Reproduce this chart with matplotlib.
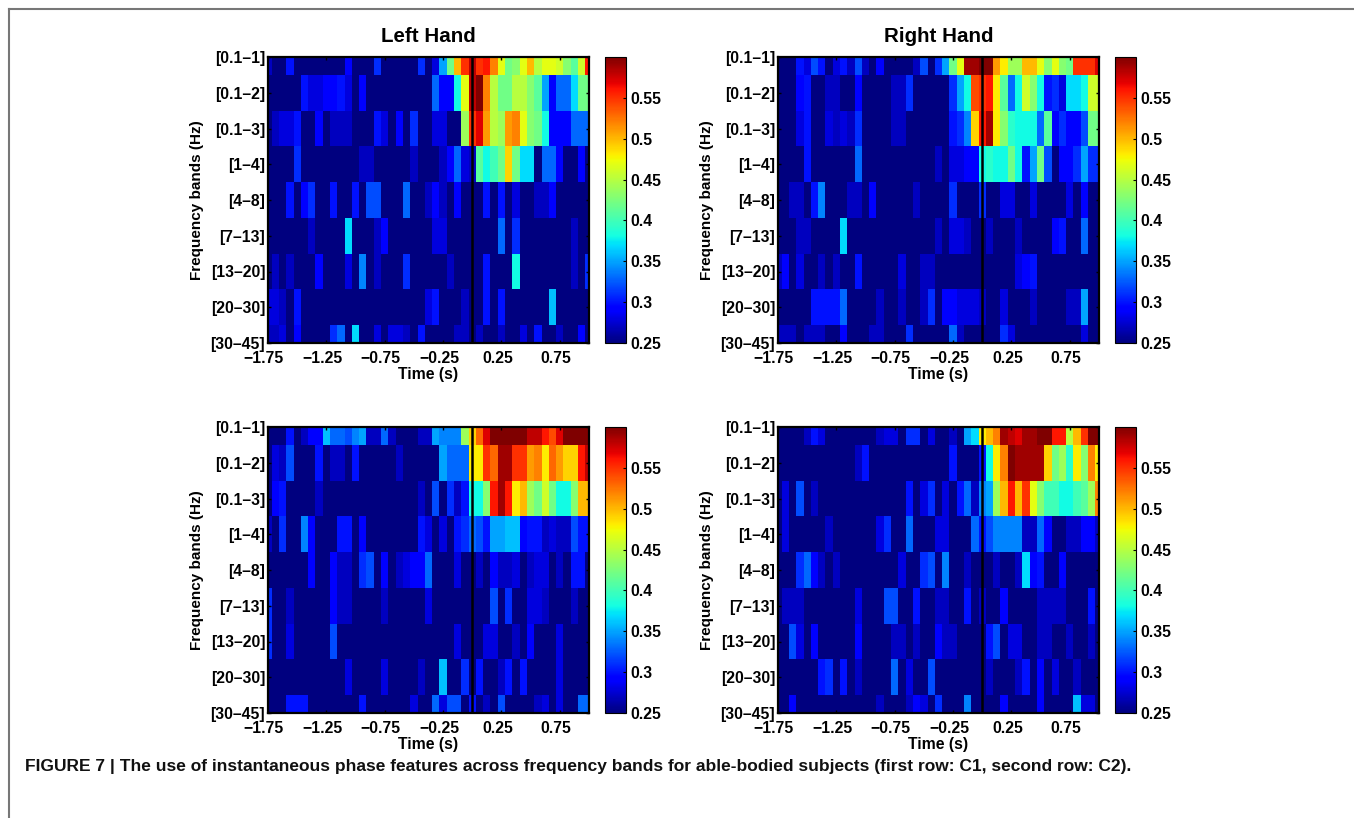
import numpy as np
import matplotlib
matplotlib.use('Agg')
import matplotlib.pyplot as plt
from matplotlib.lines import Line2D
from matplotlib.transforms import ScaledTranslation

plt.rcParams['font.family'] = ['Liberation Sans', 'DejaVu Sans']
plt.rcParams['font.weight'] = 'bold'

bands = ['[0.1\u20131]', '[0.1\u20132]', '[0.1\u20133]', '[1\u20134]', '[4\u20138]',
         '[7\u201313]', '[13\u201320]', '[20\u201330]', '[30\u201345]']
time_ticks = [-1.75, -1.25, -0.75, -0.25, 0.25, 0.75]
cbar_ticks = [0.25, 0.3, 0.35, 0.4, 0.45, 0.5, 0.55]
cbar_labels = ['0.25', '0.3', '0.35', '0.4', '0.45', '0.5', '0.55']

# values in hundredths, 45 time bins per band
left_c1 = [
    [27,25,25,30,25, 25,25,25,25,25, 25,29,25,25,25, 31,25,25,25,25, 25,31,25,28,35, 42,50,55,58,55, 56,52,47,42,43, 47,50,45,47,47, 46,43,41,46,56],
    [25,25,25,25,25, 30,28,28,29,29, 30,28,25,29,25, 25,25,25,25,25, 25,25,25,33,29, 29,38,47,58,60, 52,45,42,42,45, 45,43,41,35,29, 33,33,37,42,42],
    [25,27,28,28,30, 25,25,29,25,27, 27,27,25,25,25, 30,28,25,29,25, 31,25,25,28,28, 25,25,44,55,57, 51,45,44,51,52, 47,43,42,38,29, 29,29,33,33,33],
    [25,25,25,25,31, 25,25,25,25,25, 25,25,25,27,27, 25,25,25,25,25, 27,25,25,25,27, 29,33,28,27,41, 38,40,42,49,42, 37,37,25,33,33, 29,25,25,29,25],
    [25,25,25,30,25, 29,31,25,25,30, 25,25,30,25,32, 32,25,25,25,33, 25,25,27,29,27, 25,29,25,25,25, 30,25,30,25,28, 25,25,27,27,29, 25,25,25,25,25],
    [25,25,25,25,25, 25,27,25,25,25, 25,37,25,25,25, 27,29,25,25,25, 25,25,25,28,28, 25,25,25,25,25, 25,25,33,25,31, 25,25,25,25,25, 25,25,27,25,25],
    [25,27,25,27,25, 25,25,29,25,25, 25,28,25,34,25, 27,25,25,25,31, 25,25,25,25,25, 27,25,25,25,25, 30,25,25,25,38, 25,25,25,25,25, 25,25,27,25,31],
    [28,28,27,25,30, 25,25,25,25,25, 25,25,25,25,25, 25,25,25,25,25, 25,25,28,30,25, 25,25,27,25,25, 30,25,30,25,25, 25,25,25,25,36, 25,25,25,25,25],
    [27,27,28,25,29, 25,25,25,25,31, 33,25,37,25,25, 28,25,28,28,27, 25,30,25,25,25, 25,27,27,25,27, 25,25,27,25,25, 28,25,30,25,25, 27,25,25,29,25],
]
right_c1 = [
    [25,25,25,30,28, 32,30,25,28,30, 27,32,27,25,29, 25,25,25,25,27, 32,25,31,35,42, 47,59,59,60,60, 51,48,44,44,50, 50,47,43,47,43, 42,55,55,55,57],
    [25,25,25,29,30, 25,25,27,27,25, 25,29,25,25,25, 25,27,27,31,25, 25,25,25,25,31, 35,38,54,55,56, 48,41,33,38,46, 43,38,30,31,28, 37,37,38,46,46],
    [25,25,25,28,30, 25,25,28,27,28, 27,31,25,25,25, 25,27,27,25,25, 25,25,25,25,30, 31,34,49,56,59, 48,43,39,38,38, 38,33,41,29,31, 29,29,32,42,42],
    [25,25,25,25,30, 25,25,25,25,25, 25,33,25,25,25, 25,25,25,25,25, 25,25,27,25,28, 28,29,29,38,39, 38,38,42,38,30, 35,42,32,25,29, 29,31,35,31,31],
    [25,25,27,27,25, 30,34,25,25,25, 27,27,25,29,25, 25,25,25,25,27, 25,25,25,25,31, 25,25,25,31,25, 25,28,28,25,25, 28,25,25,25,25, 28,25,29,25,25],
    [25,25,25,27,27, 25,25,25,25,37, 25,25,25,25,25, 25,25,25,25,25, 25,25,27,25,28, 28,27,25,25,27, 25,25,25,27,25, 25,25,25,29,30, 25,25,33,25,25],
    [27,29,25,28,25, 25,27,25,27,25, 25,30,25,25,25, 25,25,28,25,25, 27,27,25,25,25, 25,25,25,25,25, 25,25,25,28,29, 30,25,25,25,25, 25,25,25,25,25],
    [25,25,25,25,25, 30,30,30,30,33, 25,25,25,25,27, 25,25,27,25,25, 27,31,25,29,29, 28,28,28,27,25, 25,28,25,25,25, 27,25,25,25,25, 27,27,35,25,25],
    [27,27,27,25,27, 27,27,25,25,29, 25,25,25,27,27, 25,25,25,31,25, 25,25,25,25,33, 27,25,25,25,25, 25,31,28,25,25, 25,25,25,25,25, 25,25,28,25,25],
]
left_c2 = [
    [25,25,25,30,25, 27,29,29,36,33, 33,32,34,35,27, 27,33,27,25,25, 25,27,27,35,34, 34,34,44,49,53, 57,60,60,60,60, 60,58,58,56,54, 57,60,60,60,60],
    [25,28,27,32,25, 25,25,30,25,27, 27,25,30,25,25, 25,25,25,27,25, 25,25,25,25,35, 33,33,33,48,48, 55,53,59,59,55, 55,51,52,48,53, 51,49,49,56,58],
    [25,29,30,25,25, 25,25,27,25,25, 25,25,25,25,25, 25,25,25,25,25, 25,27,25,32,25, 31,27,30,38,38, 43,56,59,56,48, 50,44,42,46,42, 38,38,43,50,50],
    [27,25,31,25,25, 34,29,25,25,25, 30,30,25,29,25, 25,25,25,25,25, 25,30,28,25,28, 25,30,31,33,32, 30,35,35,36,36, 29,30,30,27,28, 27,27,32,30,30],
    [25,25,25,25,25, 25,29,25,25,29, 27,27,25,31,32, 25,29,25,27,28, 29,29,33,25,25, 25,28,25,25,27, 25,29,27,27,28, 25,27,28,28,25, 27,25,30,30,25],
    [31,25,25,27,25, 25,25,25,25,29, 27,27,25,25,25, 25,27,25,25,25, 25,25,28,25,25, 25,25,25,25,25, 25,32,25,31,25, 25,28,28,27,25, 25,25,27,25,25],
    [31,25,25,28,25, 25,25,25,25,32, 25,25,25,25,25, 25,25,25,25,25, 25,25,25,25,25, 25,28,25,25,25, 28,28,25,25,27, 25,29,25,25,25, 28,25,25,25,25],
    [25,25,25,25,25, 25,25,25,25,25, 25,28,25,25,25, 25,28,25,25,25, 25,27,25,25,36, 25,25,31,25,30, 25,25,27,30,25, 30,25,25,25,25, 28,25,25,25,25],
    [25,25,25,30,30, 30,25,25,25,25, 25,25,25,30,25, 25,25,25,25,25, 28,25,25,33,28, 32,32,25,30,25, 27,25,32,25,25, 25,25,27,28,25, 28,25,25,33,33],
]
right_c2 = [
    [25,25,25,25,27, 30,28,25,25,25, 25,25,25,25,27, 28,28,25,31,31, 25,28,25,25,27, 25,35,37,48,50, 52,59,58,57,59, 59,60,60,56,56, 45,50,55,60,60],
    [25,25,25,25,25, 25,25,25,25,25, 25,27,30,25,25, 25,25,25,25,25, 25,25,25,25,30, 25,25,25,30,38, 48,52,60,59,59, 59,59,49,42,44, 39,48,43,52,48],
    [25,28,25,32,25, 27,25,25,25,25, 25,25,25,25,25, 25,25,25,30,25, 28,31,25,28,25, 30,33,27,34,35, 44,50,56,50,55, 47,43,40,40,38, 38,40,41,44,52],
    [25,28,25,25,25, 25,25,27,25,25, 25,25,25,25,28, 31,25,25,33,25, 25,25,28,28,25, 25,25,33,30,32, 34,34,34,34,27, 27,33,29,25,25, 27,27,29,29,27],
    [25,25,25,31,33, 29,27,25,27,25, 25,25,25,25,25, 25,25,28,25,25, 31,32,25,34,25, 25,27,25,25,25, 27,25,25,27,37, 29,30,25,25,29, 25,25,25,25,25],
    [25,27,27,27,25, 25,25,25,25,25, 25,28,25,25,25, 32,32,25,25,30, 25,25,27,27,25, 25,30,25,27,25, 25,29,25,25,25, 25,27,27,27,27, 25,25,25,30,25],
    [25,25,32,28,25, 29,25,25,25,25, 25,29,25,25,25, 25,27,27,25,27, 25,25,29,27,27, 25,25,25,25,30, 32,25,28,28,25, 25,27,27,25,25, 27,25,25,27,25],
    [25,25,25,25,25, 25,30,31,25,30, 25,27,25,25,25, 25,33,25,28,25, 25,32,25,25,25, 25,25,25,25,27, 25,25,25,27,30, 25,29,25,28,25, 25,27,25,25,25],
    [25,25,29,25,25, 25,25,25,25,25, 25,25,25,25,27, 25,25,25,27,29, 28,25,31,25,25, 25,34,25,25,25, 25,29,25,25,25, 25,29,25,25,25, 25,36,28,28,25],
]

W, H = 1354, 818
fig = plt.figure(figsize=(W / 100, H / 100), dpi=100)


def box(x0, y0, x1, y1):
    return [x0 / W, 1 - y1 / H, (x1 - x0) / W, (y1 - y0) / H]


def panel(values, x0, y0, title=None):
    ax = fig.add_axes(box(x0, y0, x0 + 321, y0 + 286))
    half = 1 / 32
    im = ax.imshow(np.array(values) / 100, cmap='jet', vmin=0.25, vmax=0.6, aspect='auto',
                   interpolation='nearest', extent=(-1.75 - half, 1 + half, 9.5, 0.5))
    ax.set_xlim(-1.75, 1)
    ax.set_ylim(9, 1)
    ax.axvline(-0.005, color='black', lw=1.8)
    ax.set_yticks(range(1, 10))
    ax.set_yticklabels(bands, fontsize=11.3)
    ax.set_xticks(time_ticks)
    ax.set_xticklabels([f'{t:.2f}'.replace('-', '\u2212') for t in time_ticks], fontsize=11.3)
    ax.tick_params(direction='in', length=2.5, width=1, top=True, right=True, pad=2)
    ax.tick_params(axis='x', pad=6)
    shift = ScaledTranslation(-4 / 100, 0, fig.dpi_scale_trans)
    for lab in ax.get_xticklabels():
        lab.set_transform(lab.get_transform() + shift)
    for s in ax.spines.values():
        s.set_linewidth(1.6)
    ax.set_xlabel('Time (s)', fontsize=11.3, fontweight='bold', labelpad=0.5)
    ax.set_ylabel('Frequency bands (Hz)', fontsize=11, fontweight='bold', labelpad=5)
    if title:
        ax.set_title(title, fontsize=14.8, fontweight='bold', pad=10.5)

    cax = fig.add_axes(box(x0 + 337, y0, x0 + 358, y0 + 286))
    cb = fig.colorbar(im, cax=cax)
    cb.set_ticks(cbar_ticks)
    cb.set_ticklabels(cbar_labels)
    cb.ax.tick_params(direction='in', length=2, width=0.8, labelsize=11.3, pad=3)
    cb.outline.set_linewidth(0.8)


panel(left_c1, 268, 57, 'Left Hand')
panel(right_c1, 778, 57, 'Right Hand')
panel(left_c2, 268, 427)
panel(right_c2, 778, 427)

# page frame, only top and left are visible
fig.add_artist(Line2D([9 / W, 9 / W], [0, 1 - 9 / H], color='#777777', lw=1.5))
fig.add_artist(Line2D([9 / W, 1], [1 - 9 / H, 1 - 9 / H], color='#777777', lw=1.5))

fig.text(25 / W, 1 - 766 / H,
         'FIGURE 7 | The use of instantaneous phase features across frequency bands '
         'for able-bodied subjects (first row: C1, second row: C2).',
         fontsize=12.5, fontweight='bold', va='center', ha='left', color='#111111')

fig.savefig('out.png', dpi=100)
